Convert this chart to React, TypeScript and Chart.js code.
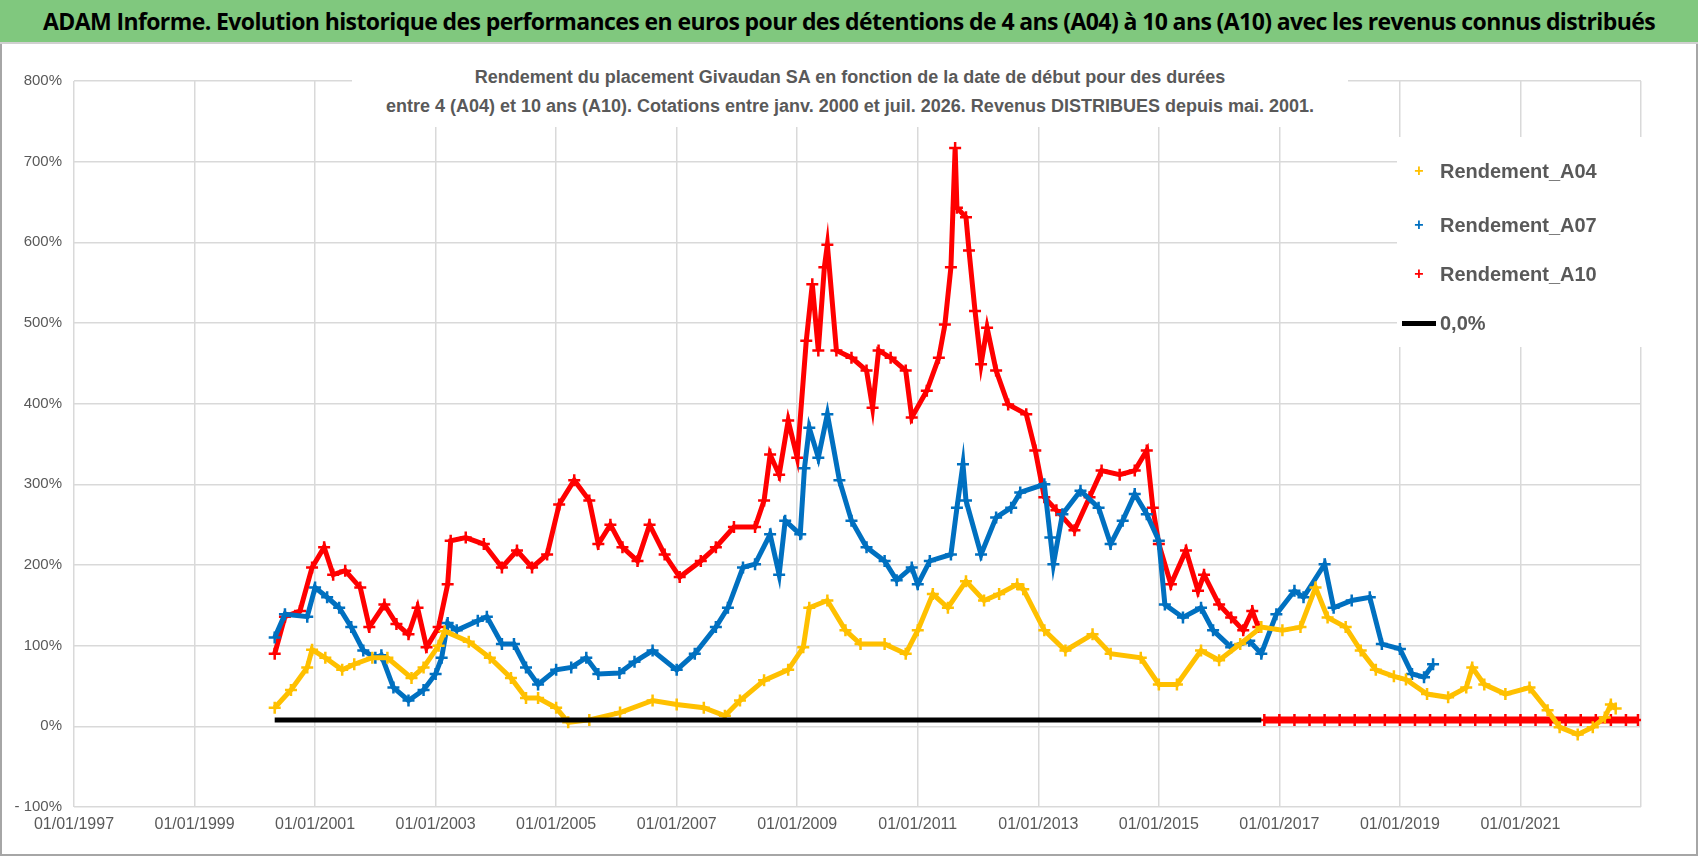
import React, { useEffect, useRef } from "react";
import { Chart, registerables } from "chart.js";
Chart.register(...registerables);

const TITLE = "ADAM Informe. Evolution historique des performances en euros pour des détentions de 4 ans (A04) à 10 ans (A10) avec les revenus connus distribués";
const SUBTITLE_1 = "Rendement du placement Givaudan SA en fonction de la date de début pour des durées";
const SUBTITLE_2 = "entre 4 (A04) et 10 ans (A10). Cotations entre janv. 2000 et juil. 2026. Revenus DISTRIBUES depuis mai. 2001.";
const SERIES_NAMES = ["Rendement_A04", "Rendement_A07", "Rendement_A10", "0,0%"];

const X_TICK_START = 1997;
const X_TICK_END = 2023;
const X_TICK_STEP = 2;
const Y_TICKS = [-100, 0, 100, 200, 300, 400, 500, 600, 700, 800];

// [decimal year, return %]
const A04: [number, number][] = [
  [2000.33, 23], [2000.6, 45], [2000.87, 73], [2000.95, 95], [2001.17, 85], [2001.45, 70], [2001.65, 77],
  [2001.95, 85], [2002.2, 85], [2002.6, 60], [2002.8, 73], [2003.05, 100], [2003.15, 118], [2003.55, 105],
  [2003.9, 85], [2004.25, 60], [2004.5, 35], [2004.7, 35], [2005.0, 23], [2005.2, 5], [2005.55, 8],
  [2006.06, 17], [2006.6, 32], [2007.0, 27], [2007.45, 23], [2007.8, 13], [2008.05, 32], [2008.45, 57],
  [2008.85, 70], [2009.1, 98], [2009.2, 147], [2009.5, 156], [2009.8, 119], [2010.05, 102], [2010.45, 102],
  [2010.8, 90], [2011.0, 119], [2011.25, 164], [2011.5, 147], [2011.8, 180], [2012.1, 156], [2012.35, 164],
  [2012.65, 176], [2012.75, 170], [2013.1, 119], [2013.45, 94], [2013.9, 114], [2014.2, 90], [2014.7, 85],
  [2015.0, 52], [2015.3, 52], [2015.7, 94], [2016.0, 82], [2016.35, 102], [2016.7, 123], [2017.05, 119],
  [2017.35, 123], [2017.6, 172], [2017.8, 135], [2018.1, 123], [2018.35, 94], [2018.6, 70], [2018.9, 62],
  [2019.1, 58], [2019.45, 40], [2019.8, 36], [2020.1, 48], [2020.2, 73], [2020.4, 52], [2020.75, 40],
  [2021.15, 48], [2021.45, 20], [2021.65, -1], [2021.95, -10], [2022.2, -1], [2022.4, 11], [2022.5, 27],
  [2022.58, 22],
];

const A07: [number, number][] = [
  [2000.33, 110], [2000.5, 139], [2000.87, 136], [2001.0, 172], [2001.2, 160], [2001.4, 147], [2001.6, 123],
  [2001.8, 94], [2002.0, 85], [2002.1, 88], [2002.3, 48], [2002.55, 32], [2002.8, 45], [2003.0, 65],
  [2003.1, 85], [2003.2, 128], [2003.35, 119], [2003.7, 131], [2003.85, 136], [2004.1, 102], [2004.3, 102],
  [2004.5, 73], [2004.7, 52], [2005.0, 70], [2005.25, 73], [2005.5, 85], [2005.7, 65], [2006.05, 66],
  [2006.3, 80], [2006.6, 94], [2007.0, 70], [2007.3, 90], [2007.65, 123], [2007.85, 147], [2008.1, 197],
  [2008.3, 201], [2008.55, 238], [2008.7, 188], [2008.8, 255], [2009.05, 238], [2009.12, 320], [2009.2, 370],
  [2009.35, 333], [2009.5, 387], [2009.7, 305], [2009.9, 255], [2010.15, 222], [2010.45, 205], [2010.65, 181],
  [2010.9, 197], [2011.0, 176], [2011.2, 205], [2011.55, 213], [2011.65, 271], [2011.75, 325], [2011.8, 280],
  [2012.05, 213], [2012.3, 259], [2012.55, 271], [2012.7, 290], [2013.1, 300], [2013.2, 234], [2013.25, 201],
  [2013.4, 263], [2013.7, 292], [2014.0, 271], [2014.2, 226], [2014.4, 255], [2014.6, 288], [2014.8, 263],
  [2015.0, 230], [2015.1, 151], [2015.4, 135], [2015.7, 147], [2015.9, 119], [2016.2, 98], [2016.5, 106],
  [2016.7, 90], [2016.95, 139], [2017.25, 168], [2017.4, 160], [2017.75, 201], [2017.9, 147], [2018.2, 156],
  [2018.5, 160], [2018.7, 102], [2019.0, 96], [2019.2, 65], [2019.4, 61], [2019.55, 77],
];

const A10: [number, number][] = [
  [2000.33, 90], [2000.5, 136], [2000.75, 143], [2000.95, 197], [2001.15, 222], [2001.3, 188], [2001.5, 193],
  [2001.75, 172], [2001.9, 123], [2002.15, 151], [2002.35, 127], [2002.55, 114], [2002.7, 147], [2002.85, 98],
  [2003.05, 123], [2003.2, 176], [2003.25, 230], [2003.5, 234], [2003.8, 226], [2004.1, 197], [2004.35, 218],
  [2004.6, 197], [2004.85, 213], [2005.05, 275], [2005.3, 305], [2005.55, 280], [2005.7, 226], [2005.9, 250],
  [2006.1, 222], [2006.35, 205], [2006.55, 250], [2006.8, 213], [2007.05, 185], [2007.4, 205], [2007.65, 222],
  [2007.95, 247], [2008.3, 247], [2008.45, 280], [2008.55, 337], [2008.7, 312], [2008.85, 379], [2009.0, 333],
  [2009.15, 478], [2009.25, 548], [2009.35, 466], [2009.45, 569], [2009.5, 597], [2009.65, 466], [2009.9, 457],
  [2010.15, 441], [2010.25, 395], [2010.35, 466], [2010.55, 457], [2010.8, 441], [2010.9, 383], [2011.15, 416],
  [2011.35, 457], [2011.45, 498], [2011.55, 569], [2011.62, 717], [2011.65, 643], [2011.8, 631], [2011.85, 590],
  [2011.95, 515], [2012.05, 449], [2012.15, 494], [2012.3, 441], [2012.5, 399], [2012.8, 387], [2012.95, 342],
  [2013.1, 284], [2013.3, 268], [2013.6, 243], [2013.85, 284], [2014.05, 317], [2014.35, 312], [2014.6, 317],
  [2014.8, 342], [2014.9, 271], [2015.0, 226], [2015.2, 176], [2015.45, 218], [2015.65, 168], [2015.75, 188],
  [2016.0, 151], [2016.2, 135], [2016.4, 119], [2016.55, 143], [2016.65, 123],
];

// A10 values shown at the zero band after mid-2016
const A10_ZERO: [number, number][] = [
  [2016.75, 8], [2017.0, 8], [2017.25, 8], [2017.5, 8], [2017.75, 8], [2018.0, 8], [2018.25, 8], [2018.5, 8],
  [2018.75, 8], [2019.0, 8], [2019.25, 8], [2019.5, 8], [2019.75, 8], [2020.0, 8], [2020.25, 8], [2020.5, 8],
  [2020.75, 8], [2021.0, 8], [2021.25, 8], [2021.5, 8], [2021.75, 8], [2022.0, 8], [2022.25, 8], [2022.5, 8],
  [2022.75, 8], [2022.95, 8],
];

const ZERO_LINE: [number, number][] = [[2000.33, 8], [2016.7, 8]];

const COLORS = ["#ffc000", "#0070c0", "#ff0000", "#000000"];
const FONT = "'Liberation Sans', Arial, sans-serif";
const GREY = "#595959";

export default function App() {
  const ref = useRef<HTMLCanvasElement>(null);
  useEffect(() => {
    document.body.style.margin = "0";
    const toPts = (a: [number, number][]) => a.map(([x, y]) => ({ x, y }));
    const scatter = (i: number, data: [number, number][], width = 5) => ({
      label: SERIES_NAMES[i],
      data: toPts(data),
      showLine: true,
      borderColor: COLORS[i],
      backgroundColor: COLORS[i],
      borderWidth: width,
      pointStyle: "cross" as const,
      pointRadius: 6,
      pointBorderWidth: 2.5,
      pointBorderColor: COLORS[i],
    });
    const chart = new Chart(ref.current!, {
      type: "scatter",
      data: {
        datasets: [
          { label: SERIES_NAMES[3], data: toPts(ZERO_LINE), showLine: true, borderColor: "#000", borderWidth: 5, pointRadius: 0 },
          scatter(0, A04),
          scatter(1, A07),
          scatter(2, A10),
          scatter(2, A10_ZERO, 7),
        ],
      },
      options: {
        animation: false,
        responsive: false,
        devicePixelRatio: 1,
        layout: { padding: { top: 81, right: 57, left: 0, bottom: 0 } },
        plugins: { legend: { display: false }, title: { display: false }, tooltip: { enabled: false } },
        scales: {
          x: {
            type: "linear",
            min: X_TICK_START,
            max: X_TICK_END,
            afterFit: (s: any) => { s.height = 49; },
            afterBuildTicks: (s: any) => {
              const t = [];
              for (let v = X_TICK_START; v <= X_TICK_END; v += X_TICK_STEP) t.push({ value: v });
              s.ticks = t;
            },
            ticks: {
              color: GREY,
              font: { family: FONT, size: 16 },
              maxRotation: 0,
              padding: 8,
              callback: (v: any) => (v >= X_TICK_END ? "" : "01/01/" + v),
            },
            grid: { color: "#d9d9d9", lineWidth: 1.5, drawTicks: false },
            border: { display: false },
          },
          y: {
            min: -100,
            max: 800,
            afterFit: (s: any) => { s.width = 74; },
            afterBuildTicks: (s: any) => { s.ticks = Y_TICKS.map((v) => ({ value: v })); },
            ticks: {
              color: GREY,
              font: { family: FONT, size: 15 },
              padding: 12,
              callback: (v: any) => (v < 0 ? "- " + Math.abs(v) + "%" : v + "%"),
            },
            grid: { color: "#d9d9d9", lineWidth: 1.5, drawTicks: false },
            border: { display: false },
          },
        },
      },
    });
    return () => chart.destroy();
  }, []);

  const legendRow = (i: number, top: number) => (
    <div key={i} style={{ position: "absolute", left: 1402, top, height: 30, display: "flex", alignItems: "center" }}>
      {i < 3 ? (
        <span style={{ width: 34, textAlign: "center", color: COLORS[i], fontSize: 16, fontWeight: "bold" }}>+</span>
      ) : (
        <span style={{ width: 34, display: "inline-block", height: 5, background: "#000" }} />
      )}
      <span style={{ marginLeft: 4, color: GREY, fontSize: 20, fontWeight: "bold" }}>{SERIES_NAMES[i]}</span>
    </div>
  );

  return (
    <div style={{ position: "relative", width: 1698, height: 856, fontFamily: FONT, overflow: "hidden", background: "#fff" }}>
      <canvas ref={ref} width={1698} height={856} style={{ position: "absolute", left: 0, top: 0 }} />
      <div style={{ position: "absolute", left: 0, top: 0, width: 1698, height: 856, boxSizing: "border-box", border: "2px solid #a6a6a6", pointerEvents: "none" }} />
      <div style={{ position: "absolute", left: 0, top: 0, width: 1698, height: 42, background: "#80c87e", borderBottom: "2px solid #d0d0d0", display: "flex", alignItems: "center", justifyContent: "center" }}>
        <span style={{ fontFamily: "'Open Sans', sans-serif", fontWeight: 700, fontSize: 23, color: "#000", letterSpacing: -0.6 }}>{TITLE}</span>
      </div>
      <div style={{ position: "absolute", left: 352, top: 63, width: 996, height: 64, background: "#fff", textAlign: "center", color: GREY, fontWeight: "bold", fontSize: 18, lineHeight: "29px" }}>
        <div>{SUBTITLE_1}</div>
        <div>{SUBTITLE_2}</div>
      </div>
      <div style={{ position: "absolute", left: 1397, top: 137, width: 272, height: 210, background: "#fff" }} />
      {legendRow(0, 156)}
      {legendRow(1, 210)}
      {legendRow(2, 259)}
      {legendRow(3, 308)}
    </div>
  );
}
